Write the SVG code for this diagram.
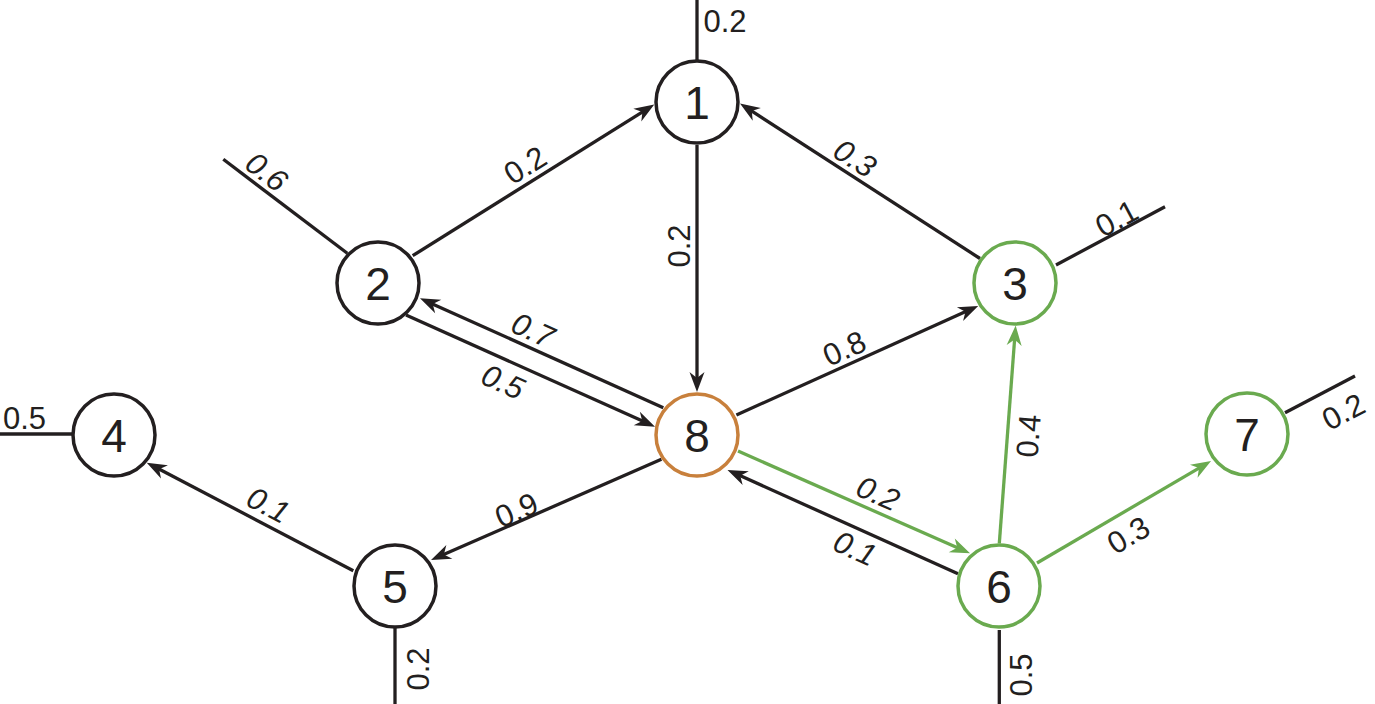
<svg xmlns="http://www.w3.org/2000/svg" width="1375" height="704" viewBox="0 0 1375 704">
<style>
  .e{fill:none;stroke:#231f20;stroke-width:3.3}
  .g{fill:none;stroke:#6aaa4f;stroke-width:3.3}
  .n{fill:#ffffff;stroke:#231f20;stroke-width:3.5}
  .ng{fill:#ffffff;stroke:#6aaa4f;stroke-width:3.5}
  .no{fill:#ffffff;stroke:#c8803c;stroke-width:3.5}
  .t{font-family:"Liberation Sans",Arial,sans-serif;font-size:46px;fill:#231f20;text-anchor:middle}
  .l{font-family:"Liberation Sans",Arial,sans-serif;font-size:31px;fill:#231f20;text-anchor:middle}
  .i{font-style:italic}
</style>
<defs>
  <marker id="ab" markerUnits="userSpaceOnUse" markerWidth="22" markerHeight="18" viewBox="-11 -9 22 18" refX="0" refY="0" orient="auto">
    <path d="M10,0 L-10,-7.5 L-4,0 L-10,7.5 Z" fill="#231f20"/>
  </marker>
  <marker id="ag" markerUnits="userSpaceOnUse" markerWidth="22" markerHeight="18" viewBox="-11 -9 22 18" refX="0" refY="0" orient="auto">
    <path d="M10,0 L-10,-7.5 L-4,0 L-10,7.5 Z" fill="#6aaa4f"/>
  </marker>
</defs>
<g id="connectors">
  <line class="e" x1="697" y1="0" x2="697" y2="61"/>
  <line class="e" x1="223.3" y1="159.3" x2="347.3" y2="253.3"/>
  <line class="e" x1="1056" y1="265" x2="1165" y2="206.7"/>
  <line class="e" x1="0" y1="434" x2="72" y2="434"/>
  <line class="e" x1="395" y1="628" x2="395" y2="704"/>
  <line class="e" x1="999.3" y1="630" x2="999.3" y2="704"/>
  <line class="e" x1="1285" y1="412.7" x2="1355" y2="376"/>
  <line class="e" x1="412.7" y1="255.7" x2="645.8" y2="109.8" marker-end="url(#ab)"/>
  <line class="e" x1="980" y1="258.5" x2="748.4" y2="108.9" marker-end="url(#ab)"/>
  <line class="e" x1="697" y1="145" x2="697" y2="382" marker-end="url(#ab)"/>
  <line class="e" x1="663.3" y1="407.7" x2="429.1" y2="302.4" marker-end="url(#ab)"/>
  <line class="e" x1="406" y1="315" x2="645.9" y2="422.6" marker-end="url(#ab)"/>
  <line class="e" x1="736.4" y1="415" x2="969.1" y2="310.1" marker-end="url(#ab)"/>
  <line class="e" x1="661.4" y1="459.3" x2="440.2" y2="556" marker-end="url(#ab)"/>
  <line class="e" x1="353.3" y1="570.7" x2="155.6" y2="467.3" marker-end="url(#ab)"/>
  <line class="g" x1="738" y1="451" x2="960.9" y2="549.3" marker-end="url(#ag)"/>
  <line class="e" x1="958" y1="573.7" x2="736.6" y2="474.1" marker-end="url(#ab)"/>
  <line class="g" x1="999.3" y1="543.3" x2="1014.9" y2="335.5" marker-end="url(#ag)"/>
  <line class="g" x1="1037" y1="563" x2="1202.4" y2="466.1" marker-end="url(#ag)"/>
</g>
<g id="labels">
  <text class="l" x="725" y="21" dy="0.35em">0.2</text>
  <text class="l" x="525" y="165" dy="0.35em" transform="rotate(-32 525 165)">0.2</text>
  <text class="l i" x="266.7" y="171.7" dy="0.35em" transform="rotate(37.2 266.7 171.7)">0.6</text>
  <text class="l i" x="855" y="158" dy="0.35em" transform="rotate(32.9 855 158)">0.3</text>
  <text class="l" x="679" y="246" dy="0.35em" transform="rotate(-90 679 246)">0.2</text>
  <text class="l" x="1116.7" y="218.3" dy="0.35em" transform="rotate(-28.1 1116.7 218.3)">0.1</text>
  <text class="l i" x="533" y="330" dy="0.35em" transform="rotate(24.2 533 330)">0.7</text>
  <text class="l i" x="503" y="381.7" dy="0.35em" transform="rotate(24.2 503 381.7)">0.5</text>
  <text class="l" x="844.3" y="348.3" dy="0.35em" transform="rotate(-24.3 844.3 348.3)">0.8</text>
  <text class="l" x="24.5" y="418" dy="0.35em">0.5</text>
  <text class="l i" x="268.3" y="505" dy="0.35em" transform="rotate(27.6 268.3 505)">0.1</text>
  <text class="l" x="516.4" y="510" dy="0.35em" transform="rotate(-23.6 516.4 510)">0.9</text>
  <text class="l i" x="878.2" y="493.3" dy="0.35em" transform="rotate(23.8 878.2 493.3)">0.2</text>
  <text class="l i" x="855" y="548.3" dy="0.35em" transform="rotate(24.2 855 548.3)">0.1</text>
  <text class="l" x="1028.3" y="436" dy="0.35em" transform="rotate(-85.7 1028.3 436)">0.4</text>
  <text class="l" x="1128.3" y="535" dy="0.35em" transform="rotate(-30.4 1128.3 535)">0.3</text>
  <text class="l" x="1343.3" y="411.7" dy="0.35em" transform="rotate(-27.7 1343.3 411.7)">0.2</text>
  <text class="l" x="418" y="669" dy="0.35em" transform="rotate(-90 418 669)">0.2</text>
  <text class="l" x="1020.7" y="675" dy="0.35em" transform="rotate(-90 1020.7 675)">0.5</text>
</g>
<g id="node1"><circle class="n" cx="697" cy="102" r="41"/><text class="t" x="697" y="102" dy="0.36em">1</text></g>
<g id="node2"><circle class="n" cx="378" cy="283" r="41"/><text class="t" x="378" y="283" dy="0.36em">2</text></g>
<g id="node3"><circle class="ng" cx="1015" cy="283" r="41"/><text class="t" x="1015" y="283" dy="0.36em">3</text></g>
<g id="node4"><circle class="n" cx="114" cy="435" r="41"/><text class="t" x="114" y="435" dy="0.36em">4</text></g>
<g id="node5"><circle class="n" cx="395" cy="586" r="41"/><text class="t" x="395" y="586" dy="0.36em">5</text></g>
<g id="node6"><circle class="ng" cx="999" cy="586" r="41"/><text class="t" x="999" y="586" dy="0.36em">6</text></g>
<g id="node7"><circle class="ng" cx="1247" cy="434" r="41"/><text class="t" x="1247" y="434" dy="0.36em">7</text></g>
<g id="node8"><circle class="no" cx="697" cy="435" r="41"/><text class="t" x="697" y="435" dy="0.36em">8</text></g>
</svg>
